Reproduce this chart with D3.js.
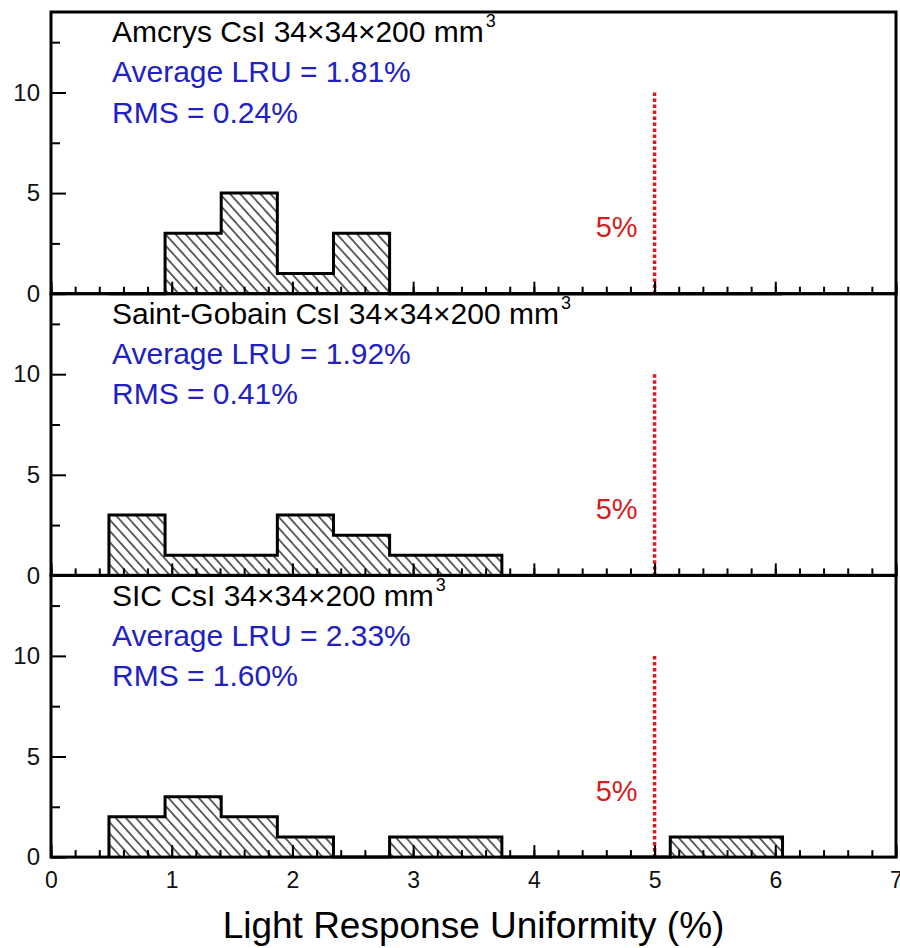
<!DOCTYPE html>
<html>
<head>
<meta charset="utf-8">
<script src="https://cdn.jsdelivr.net/npm/d3@7"></script>
<style>
  body { margin: 0; background: #fff; }
  text { font-family: "Liberation Sans", Arial, sans-serif; }
</style>
</head>
<body>
<div id="chart"></div>
<script>
// bin edges (%) shared by the three histograms
var binEdges = [0.48, 0.945, 1.41, 1.875, 2.34, 2.805, 3.27, 3.735, 4.2, 4.665, 5.13, 5.595, 6.06];

// counts per bin
var amcrysCounts = [0, 3, 5, 1, 3, 0, 0, 0, 0, 0, 0, 0];
var gobainCounts = [3, 1, 1, 3, 2, 1, 1, 0, 0, 0, 0, 0];
var sicCounts    = [2, 3, 2, 1, 0, 1, 1, 0, 0, 0, 1, 1];

var vendors  = ["Amcrys", "Saint-Gobain", "SIC"];
var avgLRU   = ["1.81%", "1.92%", "2.33%"];
var rmsLRU   = ["0.24%", "0.41%", "1.60%"];
var limitPct = 5;

var panels = [
  { name: vendors[0], counts: amcrysCounts, avg: avgLRU[0], rms: rmsLRU[0] },
  { name: vendors[1], counts: gobainCounts, avg: avgLRU[1], rms: rmsLRU[1] },
  { name: vendors[2], counts: sicCounts,    avg: avgLRU[2], rms: rmsLRU[2] }
];

var width = 900, height = 948;
var plotLeft = 51, plotRight = 896, plotTop = 12, panelH = 281.7;

var svg = d3.select("#chart").append("svg")
  .attr("width", width)
  .attr("height", height);

// hatch pattern  "\\\\"
svg.append("defs").append("pattern")
  .attr("id", "hatch")
  .attr("patternUnits", "userSpaceOnUse")
  .attr("width", 7.5).attr("height", 7.5)
  .attr("patternTransform", "rotate(-42)")
  .append("line")
  .attr("x1", 3.75).attr("y1", 0).attr("x2", 3.75).attr("y2", 7.5)
  .attr("stroke", "#111").attr("stroke-width", 1.3);

var x = d3.scaleLinear().domain([0, 7]).range([plotLeft, plotRight]);

var blue = "#2121c2", red = "#d81b1b";

panels.forEach(function (p, i) {
  var y0 = plotTop + i * panelH;
  var y = d3.scaleLinear().domain([0, 14]).range([y0 + panelH, y0]);
  var g = svg.append("g");

  // histogram points (step after)
  var pts = [[binEdges[0], 0]];
  p.counts.forEach(function (c, k) { pts.push([binEdges[k], c]); });
  pts.push([binEdges[binEdges.length - 1], p.counts[p.counts.length - 1]]);
  pts.push([binEdges[binEdges.length - 1], 0]);

  var area = d3.area()
    .x(function (d) { return x(d[0]); })
    .y0(y(0))
    .y1(function (d) { return y(d[1]); })
    .curve(d3.curveStepAfter);
  var line = d3.line()
    .x(function (d) { return x(d[0]); })
    .y(function (d) { return y(d[1]); })
    .curve(d3.curveStepAfter);

  g.append("path").attr("d", area(pts))
    .attr("fill", "url(#hatch)").attr("stroke", "none");
  g.append("path").attr("d", line(pts))
    .attr("fill", "none").attr("stroke", "#000")
    .attr("stroke-width", 3).attr("stroke-linejoin", "miter");

  // 5% limit line
  g.append("line")
    .attr("x1", x(limitPct)).attr("x2", x(limitPct))
    .attr("y1", y(10)).attr("y2", y(0))
    .attr("stroke", red).attr("stroke-width", 3.5)
    .attr("stroke-dasharray", "3.5,2.5");
  g.append("text")
    .attr("x", x(limitPct) - 17).attr("y", y(2.8))
    .attr("text-anchor", "end")
    .attr("fill", red)
    .style("font-size", "29px")
    .text("5%");

  // minor x ticks
  g.append("g")
    .attr("transform", "translate(0," + y(0) + ")")
    .call(d3.axisBottom(x).tickValues(d3.range(0, 7.01, 0.2)).tickSize(-7).tickFormat(""))
    .call(function (a) { a.select(".domain").remove(); a.selectAll("line").attr("stroke-width", 2); });
  // major x ticks
  var xa = g.append("g")
    .attr("transform", "translate(0," + y(0) + ")")
    .call(d3.axisBottom(x).tickValues(d3.range(0, 8)).tickSize(-12).tickPadding(15)
      .tickFormat(i === 2 ? d3.format("d") : ""));
  xa.select(".domain").remove();
  xa.selectAll("line").attr("stroke-width", 2);
  xa.selectAll("text").style("font-size", "23px").attr("fill", "#111");

  // y ticks
  g.append("g")
    .attr("transform", "translate(" + plotLeft + ",0)")
    .call(d3.axisLeft(y).tickValues([2.5, 7.5, 12.5]).tickSize(-9).tickFormat(""))
    .call(function (a) { a.select(".domain").remove(); a.selectAll("line").attr("stroke-width", 2); });
  var ya = g.append("g")
    .attr("transform", "translate(" + plotLeft + ",0)")
    .call(d3.axisLeft(y).tickValues([0, 5, 10]).tickSize(-15).tickPadding(11).tickFormat(d3.format("d")));
  ya.select(".domain").remove();
  ya.selectAll("line").attr("stroke-width", 2);
  ya.selectAll("text").style("font-size", "24px").attr("fill", "#111");

  // panel frame
  g.append("rect")
    .attr("x", plotLeft).attr("y", y0)
    .attr("width", plotRight - plotLeft).attr("height", panelH)
    .attr("fill", "none").attr("stroke", "#000").attr("stroke-width", 3);

  // annotations
  var title = g.append("text")
    .attr("x", 112).attr("y", y(12.5))
    .attr("fill", "#000")
    .style("font-size", "30px");
  title.append("tspan").text(p.name + " CsI 34\u00d734\u00d7200 mm");
  title.append("tspan").attr("dx", 2).attr("dy", -15).style("font-size", "18px").text("3");

  g.append("text")
    .attr("x", 112).attr("y", y(10.5))
    .attr("fill", blue).style("font-size", "30px")
    .text("Average LRU = " + p.avg);
  g.append("text")
    .attr("x", 112).attr("y", y(8.5))
    .attr("fill", blue).style("font-size", "30px")
    .text("RMS = " + p.rms);
});

// x axis title
svg.append("text")
  .attr("x", (plotLeft + plotRight) / 2).attr("y", 938)
  .attr("text-anchor", "middle")
  .style("font-size", "37px")
  .attr("fill", "#000")
  .text("Light Response Uniformity (%)");
</script>
</body>
</html>
